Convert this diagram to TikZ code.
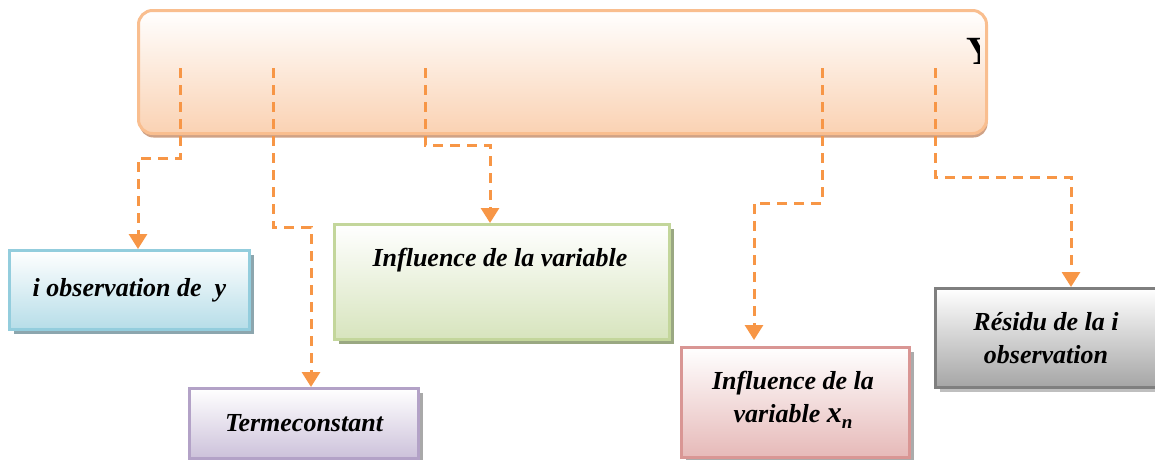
\documentclass[tikz,border=0pt]{standalone}
\usepackage{fontspec}
\setmainfont{Liberation Serif}
\usetikzlibrary{arrows.meta,shadows,calc}
\definecolor{orangeln}{HTML}{F79646}
\definecolor{peachB}{HTML}{F9BE8F}
\definecolor{peachF}{HTML}{FAD2B3}
\definecolor{peachS}{HTML}{CFA286}
\definecolor{blueB}{HTML}{93CDDD}
\definecolor{blueF}{HTML}{B6DDE8}
\definecolor{blueS}{HTML}{8CA6AE}
\definecolor{purpB}{HTML}{B3A2C7}
\definecolor{purpF}{HTML}{CCC1DA}
\definecolor{purpS}{HTML}{A9A9A9}
\definecolor{greenB}{HTML}{C3D69B}
\definecolor{greenF}{HTML}{D7E4BD}
\definecolor{greenS}{HTML}{9AA882}
\definecolor{redB}{HTML}{D99694}
\definecolor{redF}{HTML}{E6B9B8}
\definecolor{redS}{HTML}{ABABAB}
\definecolor{grayB}{HTML}{7F7F7F}
\definecolor{grayF}{HTML}{A5A5A5}
\definecolor{grayS}{HTML}{BFBFBF}
\tikzset{
  box/.style={draw, line width=3pt, anchor=north west, inner sep=0pt,
    align=center, font=\fontsize{26}{33}\selectfont\bfseries\itshape},
  conn/.style={draw=orangeln, line width=3pt, dash pattern=on 10pt off 7pt,
    -{Triangle[width=18pt,length=15pt]}},
  txt/.style={font=\fontsize{26}{33}\selectfont\bfseries\itshape, inner sep=0pt}
}
\newcommand{\xnsym}{{\fontsize{30}{30}\selectfont x}\raisebox{-6pt}{\fontsize{19}{19}\selectfont n}}
\begin{document}
\begin{tikzpicture}[x=1pt,y=-1pt]
\useasboundingbox (0,0) rectangle (1155,459);
% top box
\node[box, draw=peachB, rounded corners=14pt, top color=white, bottom color=peachF,
  minimum width=848pt, minimum height=123pt,
  drop shadow={shadow xshift=1pt, shadow yshift=-4pt, fill=peachS, opacity=1}] (top) at (137,9) {};
\begin{scope}
  \clip (940,20) rectangle (979,120);
  \node[anchor=base west, inner sep=0pt, font=\fontsize{40}{40}\selectfont\bfseries] (ylet) at (966,64) {Y};
\end{scope}
% boxes
\node[box, draw=blueB, top color=white, bottom color=blueF,
  minimum width=240pt, minimum height=79pt,
  drop shadow={shadow xshift=4pt, shadow yshift=-4pt, fill=blueS, opacity=1}] (b1) at (8,249) {i observation de \ y};
\node[box, draw=purpB, top color=white, bottom color=purpF,
  minimum width=229pt, minimum height=70pt,
  drop shadow={shadow xshift=4pt, shadow yshift=-4pt, fill=purpS, opacity=1}] (b2) at (188,387) {Termeconstant};
\node[box, draw=greenB, top color=white, bottom color=greenF,
  minimum width=335pt, minimum height=115pt,
  drop shadow={shadow xshift=4pt, shadow yshift=-4pt, fill=greenS, opacity=1}] (b3) at (333,223) {};
\node[txt] (t3) at (500,260) {Influence de la variable};
\node[box, draw=redB, top color=white, bottom color=redF,
  minimum width=228pt, minimum height=110pt,
  drop shadow={shadow xshift=4pt, shadow yshift=-4pt, fill=redS, opacity=1}] (b4) at (680,346) {};
\node[txt, align=center] (t4) at (793,400) {Influence de la\\variable \xnsym};
\node[box, draw=grayB, top color=white, bottom color=grayF,
  minimum width=222pt, minimum height=99pt,
  drop shadow={shadow xshift=4pt, shadow yshift=-4pt, fill=grayS, opacity=1}] (b5) at (934,287) {};
\node[txt, align=center] (t5) at (1046,338) {Résidu de la i\\observation};
% start points
\coordinate (s1) at (180,68);
\coordinate (s2) at (273,68);
\coordinate (s3) at (425,68);
\coordinate (s4) at (822,68);
\coordinate (s5) at (935,68);
% connectors
\draw[conn] (s1) -- (180,158) -- (138,158) -- (b1.north -| 138,0);
\draw[conn] (s2) -- (273,227) -- (311,227) -- (b2.north -| 311,0);
\draw[conn] (s3) -- (425,145) -- (490,145) -- (b3.north -| 490,0);
\draw[conn] (s4) -- (822,203) -- (754,203) -- ($(b4.north -| 754,0)+(0,-6)$);
\draw[conn] (s5) -- (935,177) -- (1071,177) -- (b5.north -| 1071,0);
\end{tikzpicture}
\end{document}
